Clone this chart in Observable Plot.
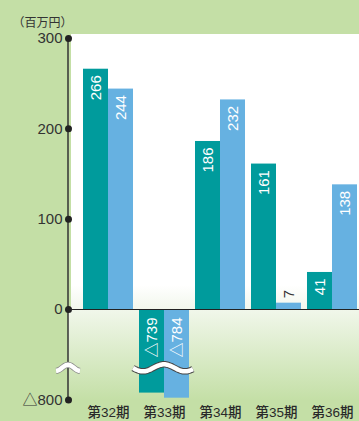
<!DOCTYPE html>
<html><head><meta charset="utf-8">
<script src="https://cdn.jsdelivr.net/npm/d3@7"></script>
<script src="https://cdn.jsdelivr.net/npm/@observablehq/plot@0.6"></script>
<style>
html,body{margin:0;padding:0;background:#c4dfa6;}
#chart svg{display:block;}
#chart [aria-label^="x-axis"] text{font-size:13.5px;font-weight:500;fill:#2a2a2a;}
</style></head><body><div id="chart"></div>
<script>
const periods = ["第32期","第33期","第34期","第35期","第36期"];
const seriesA = [266, -739, 186, 161, 41];
const seriesB = [244, -784, 232, 7, 138];
const yTicks = [300, 200, 100, 0, -800];
const unitLabel = "（百万円）";
const colorA = "#009b9c", colorB = "#66b1e1", bgGreen = "#c4dfa6";
const fmt = d => d < 0 ? "△" + (-d) : String(d);
const rowsA = periods.map((p, i) => ({period: p, value: seriesA[i]}));
const rowsB = periods.map((p, i) => ({period: p, value: seriesB[i]}));

function labelMarks(rows, dx) {
  const o = {x: "period", text: d => fmt(d.value), rotate: -90, fontSize: 15, dx};
  return [
    Plot.text(rows.filter(d => d.value >= 20), {...o, y: "value", textAnchor: "end", dy: 6, fill: "white"}),
    Plot.text(rows.filter(d => d.value < 0), {...o, y: () => 0, textAnchor: "end", dy: 8, fill: "white"}),
    Plot.text(rows.filter(d => d.value >= 0 && d.value < 20), {...o, y: "value", textAnchor: "start", dy: -5, fill: "#333"})
  ];
}

const chart = Plot.plot({
  width: 359, height: 421,
  marginLeft: 71, marginRight: 0, marginTop: 38, marginBottom: 21,
  style: {background: "transparent", fontFamily: "'Liberation Sans','Noto Sans CJK JP',sans-serif", fontSize: "15px", color: "#333", overflow: "visible"},
  x: {type: "band", domain: periods, range: [80, 360], paddingInner: 0.107, paddingOuter: 0.0536, round: false, tickSize: 0, tickPadding: 7, label: null},
  y: {type: "linear", domain: [-800, 0, 300], range: [399.5, 309, 38], ticks: yTicks, tickFormat: fmt, tickSize: 0, tickPadding: 9, label: null},
  marks: [
    Plot.barY(rowsA, {x: "period", y1: 0, y2: "value", fill: colorA, insetRight: 25}),
    Plot.barY(rowsB, {x: "period", y1: 0, y2: "value", fill: colorB, insetLeft: 25}),
    Plot.ruleY([0], {stroke: "#222", strokeWidth: 1.2, insetLeft: -3}),
    ...labelMarks(rowsA, -12.5),
    ...labelMarks(rowsB, 12.5),
    Plot.dot(yTicks, {y: d => d, frameAnchor: "left", dx: -3, r: 3.5, fill: "#222", stroke: null}),
    Plot.text([unitLabel], {frameAnchor: "top-left", dx: -59, dy: -20, textAnchor: "start", fontSize: 12, fontFamily: "'Noto Sans CJK JP'", fill: "#333"})
  ]
});
document.getElementById("chart").appendChild(chart);

// decorations: backgrounds, axis line, break marks
const svg = d3.select(chart);
const ys = chart.scale("y"), xs = chart.scale("x");
const y0 = ys.apply(0), yTop = ys.apply(300), yBot = ys.apply(-800);
const left = 71, right = 359, axisX = 68;
const bg = svg.insert("g", ":first-child");
const defs = svg.insert("defs", ":first-child");
const g1 = defs.append("linearGradient").attr("id", "negGrad").attr("x1", 0).attr("x2", 0).attr("y1", 0).attr("y2", 1);
g1.append("stop").attr("offset", 0).attr("stop-color", "#f1f7eb");
g1.append("stop").attr("offset", 1).attr("stop-color", bgGreen);
const g2 = defs.append("linearGradient").attr("id", "posGrad").attr("x1", 0).attr("x2", 0).attr("y1", 0).attr("y2", 1);
g2.append("stop").attr("offset", 0).attr("stop-color", "#ffffff");
g2.append("stop").attr("offset", 1).attr("stop-color", "#f2f7ec");
bg.append("rect").attr("x", 0).attr("y", 0).attr("width", 359).attr("height", 421).attr("fill", bgGreen);
bg.append("rect").attr("x", left).attr("y", yTop - 4).attr("width", right - left).attr("height", y0 - yTop + 4).attr("fill", "#fff");
bg.append("rect").attr("x", left).attr("y", y0 - 24).attr("width", right - left).attr("height", 24).attr("fill", "url(#posGrad)");
bg.append("rect").attr("x", axisX).attr("y", y0).attr("width", right - axisX).attr("height", yBot - y0 + 1).attr("fill", "url(#negGrad)");
bg.append("line").attr("x1", axisX).attr("x2", axisX).attr("y1", yTop).attr("y2", yBot).attr("stroke", "#333").attr("stroke-width", 1.5);

const breakY = ys.apply(-520);
function wave(x1, x2, xc, period, amp) {
  const pts = [];
  for (let x = x1; x <= x2 + 0.01; x += 1) pts.push([x, breakY - amp * Math.cos(2 * Math.PI * (x - xc) / period)]);
  return d3.line()(pts);
}
const bx = xs.apply("第33期"), bw = xs.bandwidth;
const wg = svg.append("g");
const w1 = wave(axisX - 12, axisX + 12, axisX, 24, 3);
const w2 = wave(bx - 6, bx + bw + 4, bx + 25, 42, 3.5);
wg.append("path").attr("d", w1).attr("fill", "none").attr("stroke", "#888").attr("stroke-width", 6);
wg.append("path").attr("d", w1).attr("fill", "none").attr("stroke", "#fff").attr("stroke-width", 4.5);
wg.append("path").attr("d", w2).attr("fill", "none").attr("stroke", "#444").attr("stroke-width", 6.5);
wg.append("path").attr("d", w2).attr("fill", "none").attr("stroke", "#fff").attr("stroke-width", 4.5);
</script></body></html>
